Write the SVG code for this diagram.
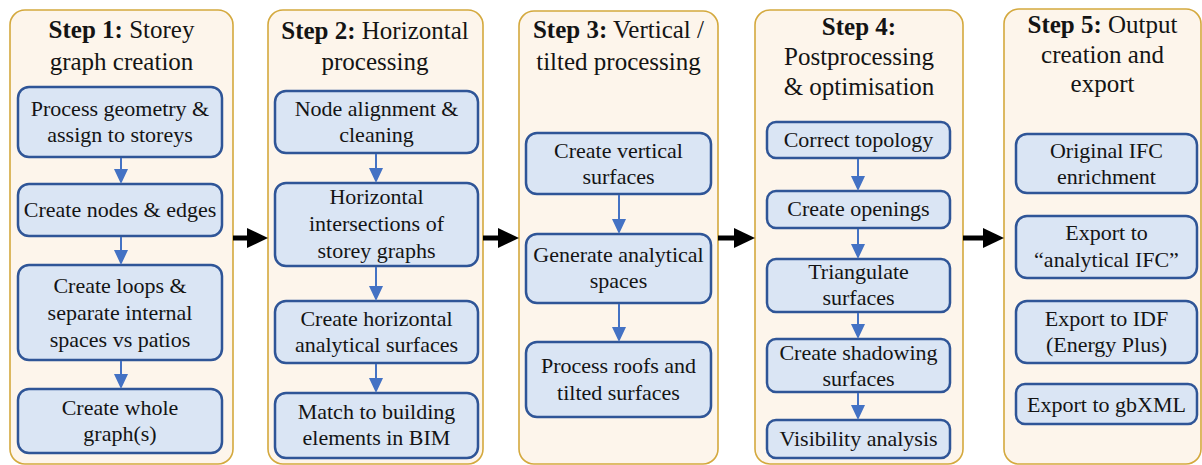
<svg xmlns="http://www.w3.org/2000/svg" width="1202" height="465" viewBox="0 0 1202 465">
  <defs>
    <style>
      .panel { fill: #FDF5EB; stroke: #D4A93E; stroke-width: 1.6; }
      .node rect { fill: #DAE5F4; stroke: #2F5597; stroke-width: 2.5; }
      text { font-family: "Liberation Serif", "Times New Roman", serif; fill: #141414; text-anchor: middle; }
      .node text { font-size: 22px; }
      .title { font-size: 25px; }
      .b { font-weight: bold; }
      .flow { stroke: #4472C4; stroke-width: 2; fill: none; marker-end: url(#blueHead); }
      .step { stroke: #000; stroke-width: 5; fill: none; marker-end: url(#blackHead); }
    </style>
    <marker id="blueHead" markerUnits="userSpaceOnUse" markerWidth="15" markerHeight="14" viewBox="0 0 15 14" refX="7" refY="7" orient="auto">
      <path d="M0,0 L15,7 L0,14 Z" fill="#4472C4"/>
    </marker>
    <marker id="blackHead" markerUnits="userSpaceOnUse" markerWidth="21" markerHeight="20" viewBox="0 0 21 20" refX="6" refY="10" orient="auto">
      <path d="M0,0 L21,10 L0,20 Z" fill="#000"/>
    </marker>
  </defs>

  <!-- Step panels -->
  <g id="step1">
    <rect class="panel" x="10" y="10" width="223" height="454" rx="15"/>
    <text class="title" x="121.5" y="38"><tspan class="b">Step 1:</tspan> Storey</text>
    <text class="title" x="121.5" y="70">graph creation</text>
  </g>
  <g id="step2">
    <rect class="panel" x="268" y="10" width="215" height="454" rx="15"/>
    <text class="title" x="375" y="39"><tspan class="b">Step 2:</tspan> Horizontal</text>
    <text class="title" x="375" y="70">processing</text>
  </g>
  <g id="step3">
    <rect class="panel" x="519" y="11" width="199" height="453" rx="15"/>
    <text class="title" x="618.5" y="38"><tspan class="b">Step 3:</tspan> Vertical /</text>
    <text class="title" x="618.5" y="70">tilted processing</text>
  </g>
  <g id="step4">
    <rect class="panel" x="755" y="10" width="208" height="454" rx="15"/>
    <text class="title b" x="859" y="35">Step 4:</text>
    <text class="title" x="859" y="65">Postprocessing</text>
    <text class="title" x="859" y="95">&amp; optimisation</text>
  </g>
  <g id="step5">
    <rect class="panel" x="1004" y="9" width="197" height="455" rx="15"/>
    <text class="title" x="1102.5" y="33"><tspan class="b">Step 5:</tspan> Output</text>
    <text class="title" x="1102.5" y="63">creation and</text>
    <text class="title" x="1102.5" y="92">export</text>
  </g>

  <!-- Step 1 tasks -->
  <g id="s1-geometry" class="node">
    <rect x="18" y="87" width="204" height="70" rx="11"/>
    <text x="120" y="116">Process geometry &amp;</text>
    <text x="120" y="142">assign to storeys</text>
  </g>
  <g id="s1-nodes" class="node">
    <rect x="18" y="184" width="204" height="52" rx="11"/>
    <text x="120" y="217">Create nodes &amp; edges</text>
  </g>
  <g id="s1-loops" class="node">
    <rect x="18" y="265" width="204" height="95" rx="11"/>
    <text x="120" y="292.5">Create loops &amp;</text>
    <text x="120" y="319.5">separate internal</text>
    <text x="120" y="346.5">spaces vs patios</text>
  </g>
  <g id="s1-graph" class="node">
    <rect x="18" y="389" width="204" height="64" rx="11"/>
    <text x="120" y="415">Create whole</text>
    <text x="120" y="441">graph(s)</text>
  </g>

  <!-- Step 2 tasks -->
  <g id="s2-align" class="node">
    <rect x="275" y="91" width="203" height="62" rx="11"/>
    <text x="376.5" y="116">Node alignment &amp;</text>
    <text x="376.5" y="142">cleaning</text>
  </g>
  <g id="s2-intersect" class="node">
    <rect x="275" y="183" width="203" height="83" rx="11"/>
    <text x="376.5" y="203.5">Horizontal</text>
    <text x="376.5" y="230.5">intersections of</text>
    <text x="376.5" y="257.5">storey graphs</text>
  </g>
  <g id="s2-surfaces" class="node">
    <rect x="275" y="301" width="203" height="62" rx="11"/>
    <text x="376.5" y="326">Create horizontal</text>
    <text x="376.5" y="352">analytical surfaces</text>
  </g>
  <g id="s2-match" class="node">
    <rect x="275" y="393" width="203" height="65" rx="11"/>
    <text x="376.5" y="419">Match to building</text>
    <text x="376.5" y="445">elements in BIM</text>
  </g>

  <!-- Step 3 tasks -->
  <g id="s3-vertical" class="node">
    <rect x="526" y="133" width="185" height="61" rx="11"/>
    <text x="618.5" y="157.5">Create vertical</text>
    <text x="618.5" y="183.5">surfaces</text>
  </g>
  <g id="s3-spaces" class="node">
    <rect x="526" y="234" width="185" height="69" rx="11"/>
    <text x="618.5" y="262">Generate analytical</text>
    <text x="618.5" y="288">spaces</text>
  </g>
  <g id="s3-roofs" class="node">
    <rect x="526" y="342" width="185" height="75" rx="11"/>
    <text x="618.5" y="373">Process roofs and</text>
    <text x="618.5" y="400">tilted surfaces</text>
  </g>

  <!-- Step 4 tasks -->
  <g id="s4-topology" class="node">
    <rect x="767" y="122" width="183" height="36" rx="9"/>
    <text x="858.5" y="147">Correct topology</text>
  </g>
  <g id="s4-openings" class="node">
    <rect x="767" y="191" width="183" height="37" rx="9"/>
    <text x="858.5" y="216">Create openings</text>
  </g>
  <g id="s4-triangulate" class="node">
    <rect x="767" y="259" width="183" height="53" rx="9"/>
    <text x="858.5" y="278.5">Triangulate</text>
    <text x="858.5" y="304.5">surfaces</text>
  </g>
  <g id="s4-shadowing" class="node">
    <rect x="767" y="339" width="183" height="53" rx="9"/>
    <text x="858.5" y="359.5">Create shadowing</text>
    <text x="858.5" y="385.5">surfaces</text>
  </g>
  <g id="s4-visibility" class="node">
    <rect x="767" y="420" width="183" height="38" rx="9"/>
    <text x="858.5" y="445.5">Visibility analysis</text>
  </g>

  <!-- Step 5 outputs -->
  <g id="s5-enrich" class="node">
    <rect x="1016" y="134" width="181" height="59" rx="11"/>
    <text x="1106.5" y="157.5">Original IFC</text>
    <text x="1106.5" y="183.5">enrichment</text>
  </g>
  <g id="s5-aifc" class="node">
    <rect x="1016" y="216" width="181" height="62" rx="11"/>
    <text x="1106.5" y="239.5">Export to</text>
    <text x="1106.5" y="266.5">“analytical IFC”</text>
  </g>
  <g id="s5-idf" class="node">
    <rect x="1016" y="301" width="181" height="62" rx="11"/>
    <text x="1106.5" y="325.5">Export to IDF</text>
    <text x="1106.5" y="352">(Energy Plus)</text>
  </g>
  <g id="s5-gbxml" class="node">
    <rect x="1016" y="384" width="181" height="40" rx="9"/>
    <text x="1106.5" y="411.5">Export to gbXML</text>
  </g>

  <!-- Connectors -->
  <g id="connectors">
    <!-- between steps -->
    <line class="step" x1="233" y1="238" x2="253" y2="238"/>
    <line class="step" x1="483" y1="238" x2="504" y2="238"/>
    <line class="step" x1="718" y1="238" x2="740" y2="238"/>
    <line class="step" x1="963" y1="238" x2="989" y2="238"/>
    <!-- step 1 -->
    <line class="flow" x1="121" y1="158" x2="121" y2="176"/>
    <line class="flow" x1="121" y1="237" x2="121" y2="257"/>
    <line class="flow" x1="121" y1="361" x2="121" y2="381"/>
    <!-- step 2 -->
    <line class="flow" x1="376" y1="154" x2="376" y2="175"/>
    <line class="flow" x1="376" y1="267" x2="376" y2="293"/>
    <line class="flow" x1="376" y1="364" x2="376" y2="385"/>
    <!-- step 3 -->
    <line class="flow" x1="619" y1="195" x2="619" y2="226"/>
    <line class="flow" x1="619" y1="304" x2="619" y2="334"/>
    <!-- step 4 -->
    <line class="flow" x1="858" y1="159" x2="858" y2="183"/>
    <line class="flow" x1="858" y1="229" x2="858" y2="251"/>
    <line class="flow" x1="858" y1="313" x2="858" y2="331"/>
    <line class="flow" x1="858" y1="393" x2="858" y2="412"/>
  </g>
</svg>
